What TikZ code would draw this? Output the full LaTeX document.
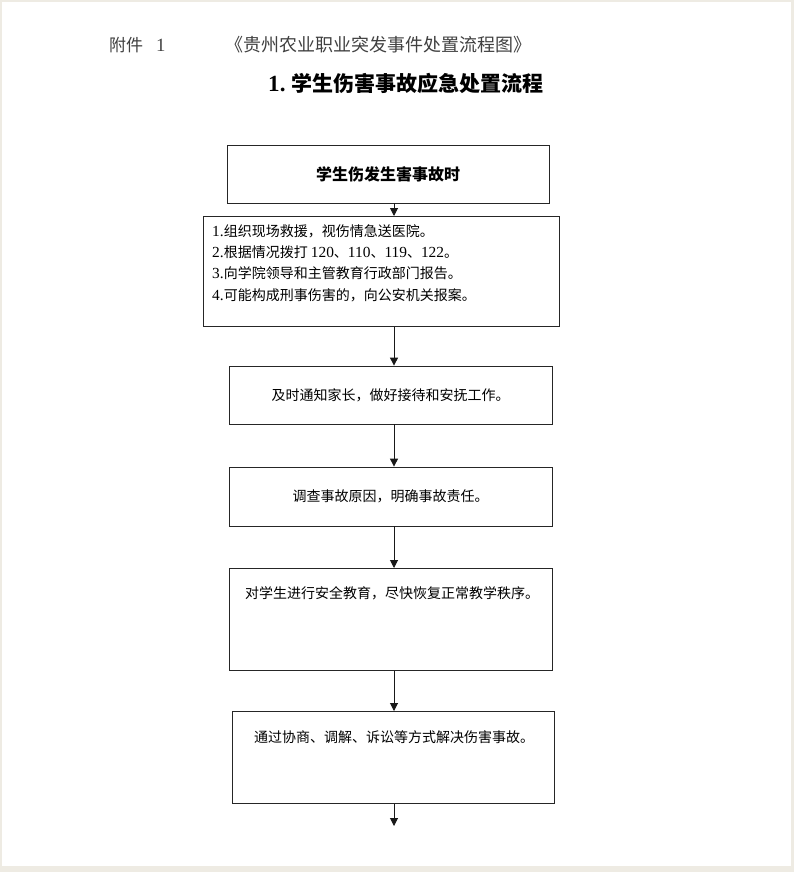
\documentclass[tikz,border=0pt]{standalone}
\usepackage{fontspec}
\setmainfont{Noto Sans CJK SC}
\newfontfamily\latin[Scale=1.1]{Liberation Serif}
\usetikzlibrary{positioning,arrows.meta}
\definecolor{pagegray}{HTML}{EEEBE3}
\tikzset{
  stepbox/.style={draw=black!85, line width=0.8pt, fill=white, inner sep=0pt, anchor=north west},
  flow/.style={-{Triangle[length=8pt,width=8pt]}, line width=1pt, draw=black!90},
  boxtext/.style={font=\fontsize{14}{21.3}\selectfont, inner sep=0pt},
}
\begin{document}
\begin{tikzpicture}[x=1pt, y=-1pt]
	\useasboundingbox (0,0) rectangle (794,872);
	\fill[pagegray] (0,0) rectangle (794,872);
	\fill[white] (2,2) rectangle (791,866);
	% header
	\node[anchor=west, inner sep=0pt, text=black!75, font=\fontsize{17}{17}\selectfont] (annex) at (109,45) {附件\hspace{13pt}{\latin 1}};
	\node[anchor=west, inner sep=0pt, text=black!75, font=\fontsize{18}{18}\selectfont] (doctitle) at (225,45) {《贵州农业职业突发事件处置流程图》};
	\node[anchor=west, inner sep=0pt, font=\bfseries\fontsize{21}{21}\selectfont] (flowtitle) at (268,83) {{\latin\bfseries 1.} 学生伤害事故应急处置流程};
	% boxes
	\node[stepbox, minimum width=322pt, minimum height=58pt, font=\bfseries\fontsize{16}{16}\selectfont, anchor=center] (start) at (388,174) {学生伤发生害事故时};
	\node[stepbox, minimum width=356pt, minimum height=110pt] (actions) at (203,216) {};
	\node[stepbox, minimum width=323pt, minimum height=58pt, boxtext, anchor=center] (notify) at (390.5,395) {及时通知家长，做好接待和安抚工作。};
	\node[stepbox, minimum width=323pt, minimum height=59pt, boxtext, anchor=center] (investigate) at (390.5,496.5) {调查事故原因，明确事故责任。};
	\node[stepbox, minimum width=323pt, minimum height=102pt] (educate) at (229,568) {};
	\node[stepbox, minimum width=322pt, minimum height=92pt] (resolve) at (232,711) {};
	% texts in the tall boxes
	\node[boxtext, anchor=west, align=left] (actionstext) at (212,263) {{\latin 1.}组织现场救援，视伤情急送医院。\\
		{\latin 2.}根据情况拨打 {\latin 120}、{\latin 110}、{\latin 119}、{\latin 122}。\\
		{\latin 3.}向学院领导和主管教育行政部门报告。\\
		{\latin 4.}可能构成刑事伤害的，向公安机关报案。};
	\node[boxtext, anchor=west] (educatetext) at (245,593) {对学生进行安全教育，尽快恢复正常教学秩序。};
	\node[boxtext, anchor=west] (resolvetext) at (254,737) {通过协商、调解、诉讼等方式解决伤害事故。};
	% arrows
	\coordinate (axis) at (394,0);
	\coordinate (finish) at (394,826);
	\draw[flow] (start.south -| axis) -- (actions.north -| axis);
	\draw[flow] (actions.south -| axis) -- (notify.north -| axis);
	\draw[flow] (notify.south -| axis) -- (investigate.north -| axis);
	\draw[flow] (investigate.south -| axis) -- (educate.north -| axis);
	\draw[flow] (educate.south -| axis) -- (resolve.north -| axis);
	\draw[flow] (resolve.south -| axis) -- (finish);
\end{tikzpicture}
\end{document}
